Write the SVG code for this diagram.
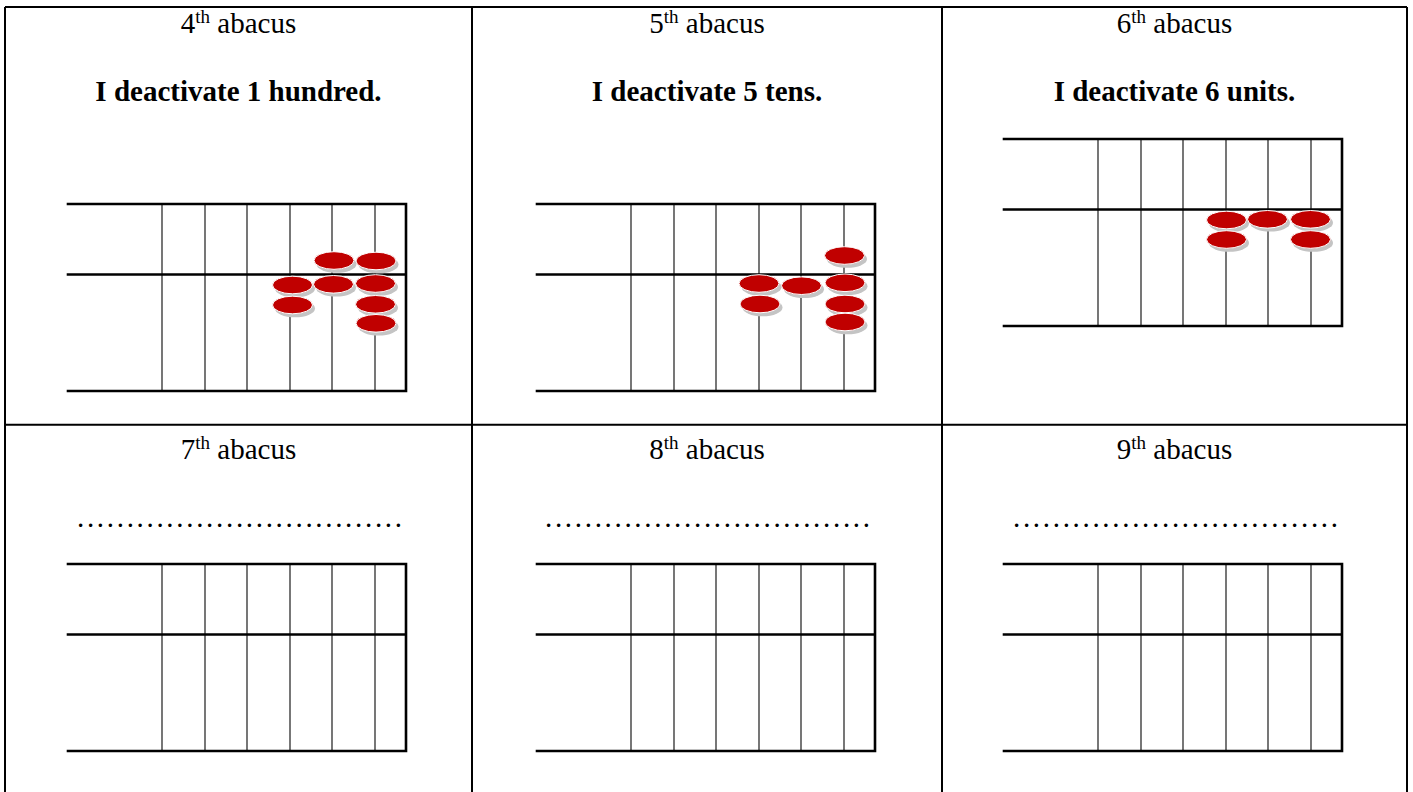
<svg xmlns="http://www.w3.org/2000/svg" xmlns:xlink="http://www.w3.org/1999/xlink" width="1413" height="792" viewBox="0 0 1413 792">
<style>
text{font-family:"Liberation Serif","DejaVu Serif",serif}
.t{font-size:29px;fill:#000;text-anchor:middle}
.b{font-weight:bold}
.sup{font-size:19px}
.thick{stroke:#000;stroke-width:2.6;fill:none;stroke-linecap:square}
.thin{stroke:#555;stroke-width:1.6;fill:none}
.grid{stroke:#000;stroke-width:2;fill:none}
.dots{font-size:29px;fill:#000}
</style>
<defs>
<g id="frame">
<path class="thin" d="M94 0V187M137 0V187M179 0V187M222 0V187M264 0V187M307 0V187"/>
<path class="thick" d="M0 0H338M0 70.5H338M0 187H338M338 0V187"/>
</g>
<g id="bead">
<ellipse cx="2.5" cy="3.5" rx="20" ry="8.8" fill="#c4c4c4"/>
<ellipse cx="0" cy="0" rx="20" ry="8.8" fill="#c00000" stroke="#fff" stroke-width="1"/>
</g>
</defs>
<rect width="1413" height="792" fill="#fff"/>
<g id="table">
<path class="grid" d="M5 7H1407M5 424.7H1407M5 7V792M472 7V792M942 7V792M1407 7V792"/>
</g>
<g id="cell4">
<text class="t" x="238.5" y="33" font-family="Liberation Serif, DejaVu Serif, serif">4<tspan class="sup" dy="-10">th</tspan><tspan dy="10"> abacus</tspan></text>
<text class="t b" x="238.5" y="101" font-family="Liberation Serif, DejaVu Serif, serif">I deactivate 1 hundred.</text>
<g id="abacus4" transform="translate(68,204)"><use xlink:href="#frame"/></g>
<g id="beads4">
<use xlink:href="#bead" x="334" y="260.5"/>
<use xlink:href="#bead" x="376" y="261"/>
<use xlink:href="#bead" x="292.5" y="285"/>
<use xlink:href="#bead" x="333.5" y="284.3"/>
<use xlink:href="#bead" x="375.5" y="283.5"/>
<use xlink:href="#bead" x="292.5" y="305"/>
<use xlink:href="#bead" x="375.5" y="304.3"/>
<use xlink:href="#bead" x="376" y="323.3"/>
</g>
</g>
<g id="cell5">
<text class="t" x="707" y="33" font-family="Liberation Serif, DejaVu Serif, serif">5<tspan class="sup" dy="-10">th</tspan><tspan dy="10"> abacus</tspan></text>
<text class="t b" x="707" y="101" font-family="Liberation Serif, DejaVu Serif, serif">I deactivate 5 tens.</text>
<g id="abacus5" transform="translate(537,204)"><use xlink:href="#frame"/></g>
<g id="beads5">
<use xlink:href="#bead" x="844.5" y="255.5"/>
<use xlink:href="#bead" x="759" y="283.5"/>
<use xlink:href="#bead" x="801.5" y="285.7"/>
<use xlink:href="#bead" x="845" y="282.8"/>
<use xlink:href="#bead" x="760" y="304"/>
<use xlink:href="#bead" x="845" y="304"/>
<use xlink:href="#bead" x="845" y="322"/>
</g>
</g>
<g id="cell6">
<text class="t" x="1174.5" y="33" font-family="Liberation Serif, DejaVu Serif, serif">6<tspan class="sup" dy="-10">th</tspan><tspan dy="10"> abacus</tspan></text>
<text class="t b" x="1174.5" y="101" font-family="Liberation Serif, DejaVu Serif, serif">I deactivate 6 units.</text>
<g id="abacus6" transform="translate(1004,139)"><use xlink:href="#frame"/></g>
<g id="beads6">
<use xlink:href="#bead" x="1226.5" y="220"/>
<use xlink:href="#bead" x="1267.5" y="219.3"/>
<use xlink:href="#bead" x="1310.5" y="219.3"/>
<use xlink:href="#bead" x="1226.5" y="239.5"/>
<use xlink:href="#bead" x="1310.5" y="239.5"/>
</g>
</g>
<g id="cell7">
<text class="t" x="238.5" y="459" font-family="Liberation Serif, DejaVu Serif, serif">7<tspan class="sup" dy="-10">th</tspan><tspan dy="10"> abacus</tspan></text>
<text class="dots" x="77" y="527" textLength="325" lengthAdjust="spacing" font-family="Liberation Serif, DejaVu Serif, serif">.................................</text>
<g id="abacus7" transform="translate(68,564)"><use xlink:href="#frame"/></g>
</g>
<g id="cell8">
<text class="t" x="707" y="459" font-family="Liberation Serif, DejaVu Serif, serif">8<tspan class="sup" dy="-10">th</tspan><tspan dy="10"> abacus</tspan></text>
<text class="dots" x="545" y="527" textLength="325" lengthAdjust="spacing" font-family="Liberation Serif, DejaVu Serif, serif">.................................</text>
<g id="abacus8" transform="translate(537,564)"><use xlink:href="#frame"/></g>
</g>
<g id="cell9">
<text class="t" x="1174.5" y="459" font-family="Liberation Serif, DejaVu Serif, serif">9<tspan class="sup" dy="-10">th</tspan><tspan dy="10"> abacus</tspan></text>
<text class="dots" x="1013" y="527" textLength="325" lengthAdjust="spacing" font-family="Liberation Serif, DejaVu Serif, serif">.................................</text>
<g id="abacus9" transform="translate(1004,564)"><use xlink:href="#frame"/></g>
</g>
</svg>
